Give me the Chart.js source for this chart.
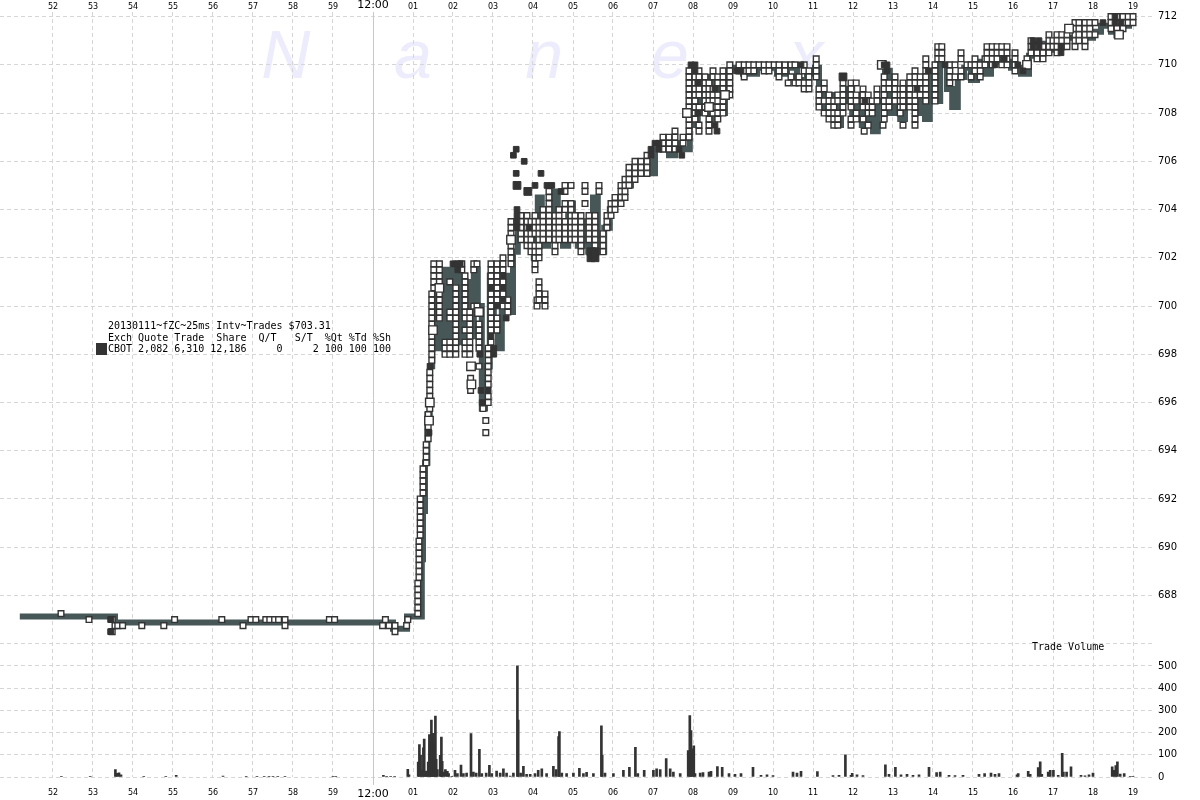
<!DOCTYPE html>
<html><head><meta charset="utf-8">
<script src="https://cdn.jsdelivr.net/npm/chart.js@4.4.1/dist/chart.umd.min.js"></script>
<style>
html,body{margin:0;padding:0;background:#fff;}
#wrap{position:relative;width:1200px;height:800px;overflow:hidden;background:#fff;}
#c{position:absolute;left:0;top:0;}
.legend{position:absolute;left:108px;top:320px;font:10px 'DejaVu Sans Mono',monospace;line-height:11.5px;white-space:pre;color:#000;}
.lsq{position:absolute;left:96px;top:343px;width:11px;height:12px;background:#333;}
.tv{position:absolute;left:1032px;top:641px;font:10px 'DejaVu Sans Mono',monospace;white-space:pre;color:#000;}
</style></head>
<body><div id="wrap">
<canvas id="c" width="1200" height="800"></canvas>
<div class="lsq"></div>
<div class="legend">20130111~fZC~25ms Intv~Trades $703.31
Exch Quote Trade  Share  Q/T   S/T  %Qt %Td %Sh
CBOT 2,082 6,310 12,186     0     2 100 100 100</div>
<div class="tv">Trade Volume</div>
</div>
<script>
// time axis: minutes relative to 12:00 (negative = 11:xx)
const minuteTicks = [-8,-7,-6,-5,-4,-3,-2,-1,0,1,2,3,4,5,6,7,8,9,10,11,12,13,14,15,16,17,18,19];
const priceTicks = [686,688,690,692,694,696,698,700,702,704,706,708,710,712];
const volumeTicks = [0,100,200,300,400,500];
const watermark = ['N','a','n','e','x'];

// quote band (bid/ask mid): price changes to bandPrice[i] at bandTime[i]
const bandTime = [-8.83,-6.45,0.50,0.85,1.22,1.25,1.30,1.36,1.42,1.48,1.55,1.62,1.75,1.88,2.02,2.15,2.25,2.38,2.52,2.62,2.72,2.80,2.92,3.02,3.12,3.22,3.35,3.42,3.50,3.62,3.75,3.88,4.02,4.12,4.22,4.38,4.52,4.62,4.75,4.88,5.00,5.12,5.25,5.38,5.50,5.62,5.78,5.92,6.05,6.25,6.45,6.62,6.80,6.92,7.05,7.20,7.40,7.55,7.70,7.92,8.02,8.12,8.22,8.32,8.45,8.55,8.68,8.80,8.95,9.25,9.60,10.10,10.35,10.60,10.85,11.05,11.15,11.30,11.45,11.58,11.70,11.85,11.98,12.10,12.22,12.35,12.50,12.62,12.80,12.92,13.05,13.18,13.30,13.42,13.55,13.68,13.80,13.92,14.05,14.18,14.35,14.48,14.62,14.78,14.95,15.10,15.30,15.45,15.70,15.95,16.20,16.40,16.60,16.85,17.05,17.30,17.55,17.80,18.00,18.20,18.45,18.70,18.90,19.05];
const bandPrice = [687.125,686.875,686.625,687.125,689.5,691.5,693.5,695.5,697.5,700.0,701.5,698.25,701.5,698.25,701.5,698.5,701.0,698.75,701.5,700.0,695.75,697.5,701.25,699.5,698.25,700.0,701.25,699.75,702.25,703.75,702.75,703.5,702.0,704.5,702.5,703.25,704.75,703.0,702.5,704.25,703.0,702.5,703.5,702.25,704.5,702.25,703.25,704.0,704.5,705.0,705.75,705.5,706.0,705.5,706.5,706.75,706.25,706.75,706.5,709.75,707.5,709.5,708.0,709.5,707.75,709.25,708.0,709.75,709.875,709.625,709.875,709.625,709.875,709.375,709.625,709.875,708.75,708.0,708.75,707.5,708.5,709.0,707.75,708.75,707.5,708.25,707.25,708.5,709.75,708.0,709.0,707.75,709.0,708.25,708.0,709.25,707.75,709.75,708.5,710.0,709.0,708.25,709.5,709.875,709.375,710.125,709.625,710.375,710.125,709.875,709.625,710.375,710.875,710.625,710.875,711.125,711.375,711.125,711.375,711.625,711.375,711.625,711.875,711.875];

// trades (open squares): [time, price, price, ...]
const tradeCols = [
[-7.80,687.25],[-7.10,687.0],[-6.52,687.0,686.5],[-6.45,686.75],[-6.38,686.75],[-6.26,686.75],[-5.78,686.75],[-5.23,686.75],[-4.96,687.0],[-3.78,687.0],[-3.25,686.75],[-3.05,687.0],[-2.93,687.0],[-2.68,687.0],[-2.58,687.0],[-2.46,687.0],[-2.36,687.0],[-2.20,687.0,686.75],[-1.09,687.0],[-0.96,687.0],[0.24,686.75],[0.31,687.0],[0.40,686.75],[0.55,686.75,686.5],[0.84,686.75],[0.87,687.0],
[1.12,687.25,687.5,687.75,688.0,688.25,688.5],[1.15,688.75,689.0,689.25,689.5,689.75,690.0,690.25],[1.18,690.5,690.75,691.0,691.25,691.5,691.75,692.0],[1.25,692.25,692.5,692.75,693.0,693.25],[1.33,693.5,693.75,694.0,694.25],[1.38,694.5,694.75,695.0,695.5],[1.42,695.75,696.25,696.5,696.75,697.0,697.25],
[1.47,697.75,698.0,698.25,698.5,698.75,699.25,699.5,699.75,700.0,700.25,700.5],[1.52,700.75,701.0,701.25,701.5,701.75],
[1.66,699.5,699.75,700.0,700.25,700.5,701.0,701.25,701.5,701.75],[1.80,698.0,698.25,698.5],[1.92,701.0,699.75,699.5,698.5,698.25,698.0],
[2.07,698.0,698.25,698.5,698.75,699.0,699.25,699.5,699.75,700.0,700.25,700.5,700.75],[2.22,701.75,701.5],[2.30,698.0,698.25,698.5,699.0,699.5,699.75,700.0,700.25,700.5,700.75,701.0,701.25],[2.42,698.0,698.25,698.5,698.75,699.0,699.25,699.5,699.75],[2.44,697.0,696.5],[2.52,701.75,701.5,700.0],[2.60,701.75,700.0],[2.65,699.25,699.0,698.75,698.5,698.25,697.5],[2.75,695.75],[2.82,695.25,694.75],
[2.88,696.0,696.25,696.75,697.0,697.25,697.5,697.75,698.0,698.25],[2.95,698.5,699.0,699.25,699.5,699.75,700.0,700.25,700.5,701.0,701.25,701.5,701.75],[3.10,699.0,699.25,699.5,700.25,700.5,700.75,701.0,701.25,701.5,701.75],[3.25,702.0,701.75,701.5,701.0,700.5,700.0],[3.37,700.25,700.0,699.75],[3.45,701.75,702.0,702.25,702.5,702.75,703.0,703.25,703.5],
[3.70,703.75,703.5,703.25,703.0,702.75],[3.85,703.75,703.5,703.25,703.0,702.75,702.5],[3.95,703.5,703.25,703.0,702.75,702.5,702.25],[4.05,703.75,703.5,703.25,703.0,702.5,702.25,702.0,701.75,701.5],[4.10,700.25,700.0],[4.15,703.5,703.25,703.0,702.75,702.5,702.25,702.0,701.0,700.75,700.5,700.25],[4.25,704.0,703.75,703.5,703.25,703.0,702.75],[4.30,700.5,700.25,700.0],
[4.40,704.75,704.5,704.25,704.0,703.75,703.5,703.25,703.0,702.75],[4.55,703.75,703.5,703.25,703.0,702.75,702.5,702.25],[4.65,704.0,703.75,703.5,703.25,703.0,702.75],[4.80,705.0,704.75,704.25,704.0,703.5,703.25,703.0,702.75],[4.95,705.0,704.25,704.0,703.75,703.5,703.25,703.0,702.75],[5.05,703.75,703.5,703.25,703.0,702.75],[5.20,703.75,703.5,703.25,703.0,702.75,702.5,702.25],[5.30,705.0,704.75,704.25],[5.40,703.75,703.5,703.25,703.0,702.75],[5.55,703.75,703.5,703.25,703.0,702.75,702.5],[5.65,705.0,704.75],[5.75,703.0,702.75,702.5,702.25],
[5.85,703.25,703.5,703.75],[5.95,703.75,704.0,704.25],[6.05,704.0,704.25,704.5],[6.20,704.25,704.5,704.75,705.0],[6.30,704.5,704.75,705.0,705.25],[6.40,705.0,705.25,705.5,705.75],[6.55,705.25,705.5,705.75,706.0],[6.70,705.5,705.75,706.0],[6.85,705.5,705.75,706.0,706.25],[7.25,706.5,706.75,707.0],[7.40,706.5,706.75,707.0],[7.55,706.5,706.75,707.0,707.25],[7.75,706.75,707.0],
[7.90,707.0,707.25,707.5,707.75,708.25,708.5,708.75,709.0,709.25,709.5,709.75],[8.05,709.5,709.25,709.0,708.75,708.5,708.25,708.0,707.75],[8.15,709.75,709.5,709.0,708.75,708.25,707.5,707.25],[8.30,709.5,709.25,709.0,708.75,708.5,708.25,708.0],[8.40,709.25,709.0,708.75,708.5,707.75,707.5,707.25],[8.50,709.75,709.5,709.0,708.75,708.5,708.25,708.0],[8.62,709.5,709.25,708.75,708.5,708.25,708.0,707.75],[8.75,709.75,709.5,709.25,709.0,708.75,708.5,708.25,708.0],[8.92,710.0,709.75,709.5,709.25,709.0,708.75],
[9.15,710.0,709.75],[9.28,710.0,709.75,709.5],[9.40,710.0,709.75],[9.52,710.0,709.75],[9.65,710.0],[9.78,710.0,709.75],[9.90,710.0,709.75],[10.03,710.0],[10.15,710.0,709.75,709.5],[10.30,710.0,709.75],[10.38,709.25],[10.45,710.0,709.5],[10.55,710.0,709.25],[10.65,709.5,709.25],[10.78,710.0,709.75,709.25,709.0],[10.90,709.75,709.5,709.25,709.0],[11.08,710.25,710.0,709.75,709.5],
[11.15,709.0,708.75,708.5,708.25],[11.28,709.25,709.0,708.5,708.0],[11.40,708.75,708.5,708.25,708.0,707.75],[11.52,708.5,708.25,708.0,707.75,707.5],[11.62,708.75,708.5,708.0,707.75,707.5],[11.75,709.25,709.0,708.75,708.5,708.25,708.0],[11.95,709.25,709.0,708.75,708.5,708.25,707.75,707.5],[12.08,709.25,708.75,708.5,708.0,707.75],[12.25,709.0,708.75,708.5,708.25,707.75],[12.28,707.25],[12.38,708.75,708.5,708.25,708.0,707.5],[12.48,708.5,708.25,708.0],[12.60,709.0,708.75,708.5],
[12.75,707.5],[12.78,709.5,709.25,709.0,708.75,708.5,708.25,708.0,707.75],[12.90,709.25,709.0,708.5,708.25],[13.05,709.5,709.25,709.0,708.75,708.5],[13.18,709.0,708.75,708.5,708.25,708.0],[13.25,709.25,709.0,708.75,708.5,708.25,707.5],[13.42,709.5,709.25,709.0,708.75,708.5,708.25],[13.55,709.75,709.5,709.25,708.75,708.5,708.25,708.0,707.75,707.5],[13.68,709.5,709.25,709.0,708.75],[13.82,710.25,710.0,709.75,709.5,709.25,709.0,708.75,708.5],[14.05,710.0,709.75,709.5,709.25,709.0,708.75,708.5],
[14.12,710.75,710.5,710.25],[14.22,710.75,710.5,710.25],[14.42,710.0,709.75,709.5,709.25],[14.55,710.0,709.5],[14.70,710.5,710.25,709.75,709.5],[14.85,710.0],[14.95,710.0,709.5],[15.05,710.25,710.0,709.75],[15.18,710.0,709.75,709.5],[15.30,710.25,710.0],[15.35,710.75,710.5,710.25],[15.48,710.75,710.5,710.25,710.0],[15.60,710.75,710.5,710.25],[15.72,710.75,710.5,710.0],[15.85,710.75,710.5,710.25,710.0],[16.05,710.5,710.25,710.0,709.75],[16.35,710.25],
[16.45,711.0,710.75,710.5],[16.60,710.75,710.5,710.25],[16.75,710.75,710.5,710.25],[16.90,711.25,711.0,710.75,710.5],[17.00,711.0,710.75],[17.10,711.25,711.0,710.75,710.5],[17.22,711.25,711.0,710.75],[17.35,711.25,711.0,710.75],[17.55,711.75,711.5,711.25,711.0,710.75],[17.65,711.75,711.5,711.25,711.0],[17.80,711.75,711.5,711.25,711.0,710.75],[17.92,711.75,711.5,711.25],[18.05,711.75,711.25],
[18.45,712.0,711.75,711.5],[18.60,712.0,711.75,711.5,711.25],[18.75,712.0,711.75,711.5],[18.88,712.0,711.75],[19.00,712.0,711.75]
];
// larger open squares (bigger prints)
const bigTradeTime = [1.40,1.42,1.50,1.66,2.45,2.46,2.65,3.45,7.85,8.40,8.80,12.72,16.35,17.40,18.65];
const bigTradePrice = [695.25,696.0,699.0,700.75,697.5,696.75,699.75,702.75,708.0,708.25,708.75,710.0,710.0,711.5,711.25];

// filled squares: [time, price, price, ...]
const darkCols = [
[-6.56,687.0,686.5],[1.40,694.75],[1.43,697.5],[2.00,701.75],[2.06,701.75],[2.12,701.75,701.5],[2.18,701.75],[2.67,698.0],[2.70,696.5],[2.73,696.0],[2.88,696.5],[2.95,698.75,700.75],[3.02,698.0,698.25],[3.10,700.0],[3.25,701.25,700.75,700.25],[3.33,699.5],
[3.51,706.25],[3.58,706.5,705.5],[3.78,706.0],[4.20,705.5],[4.05,705.0],[3.60,704.0,703.75,703.5,703.25],[3.90,703.25],[4.35,705.0],[4.47,705.0],[4.70,704.75],
[6.95,706.25,706.5],[7.05,706.75],[7.15,706.75,706.5],[7.65,706.5],[7.72,706.25],[7.95,710.0],[8.05,710.0,709.75],[8.12,709.25,708.0],[8.55,709.0,707.5],[8.60,707.25],
[9.10,709.75],[9.20,709.75],[10.70,710.0],[12.30,708.5],[12.78,710.0],[12.85,709.75,710.0],[13.60,709.0],[13.88,709.75],[14.30,710.0],[15.55,710.0],[15.78,710.25],[16.12,710.0],[16.25,709.75],[16.50,711.0,710.75],[16.65,711.0,710.75],[17.20,710.5,710.75],[18.25,711.75],[18.55,712.0,711.75],[18.70,711.75]
];
const bigDarkTime = [3.60,3.87,5.45,5.45,5.55,5.55,11.75];
const bigDarkPrice = [705.0,704.75,702.25,702.0,702.25,702.0,709.5];

// trade volume per interval
const volumeTime = [-7.79,-7.07,-6.44,-6.40,-6.35,-6.30,-5.73,-5.18,-4.92,-3.75,-3.17,-2.90,-2.72,-2.60,-2.50,-2.38,-2.20,-1.00,-0.93,0.26,0.34,0.44,0.54,0.87,0.90,1.13,1.16,1.19,1.22,1.26,1.28,1.32,1.34,1.38,1.41,1.43,1.46,1.48,1.51,1.53,1.56,1.58,1.61,1.68,1.71,1.73,1.76,1.81,1.86,1.89,1.97,2.05,2.11,2.20,2.26,2.34,2.45,2.51,2.58,2.66,2.72,2.83,2.91,2.97,3.09,3.18,3.26,3.34,3.43,3.51,3.61,3.63,3.69,3.76,3.84,3.93,4.05,4.13,4.22,4.34,4.51,4.58,4.64,4.66,4.72,4.84,5.01,5.16,5.26,5.34,5.51,5.71,5.73,5.80,6.01,6.26,6.41,6.56,6.62,6.78,7.01,7.09,7.18,7.33,7.43,7.51,7.68,7.88,7.92,7.95,7.98,8.02,8.05,8.18,8.25,8.40,8.45,8.61,8.73,8.90,9.05,9.20,9.50,9.70,9.85,10.00,10.50,10.60,10.70,11.11,11.50,11.65,11.81,11.95,11.98,12.10,12.25,12.81,12.90,13.06,13.20,13.35,13.50,13.65,13.90,14.09,14.18,14.40,14.55,14.75,15.15,15.29,15.45,15.55,15.65,16.10,16.13,16.38,16.43,16.63,16.68,16.72,16.88,16.93,17.01,17.13,17.23,17.26,17.34,17.45,17.70,17.80,17.90,18.00,18.48,18.53,18.57,18.61,18.68,18.78,18.93,19.00];
const volumeValue = [3,3,33,17,19,10,3,3,8,4,3,3,3,3,3,3,3,3,3,7,3,3,3,34,10,67,146,97,30,131,171,27,15,67,191,155,256,185,197,149,274,80,33,97,180,70,22,33,25,15,3,30,15,54,15,18,195,22,18,125,15,18,52,15,27,18,37,18,4,18,500,256,18,48,12,12,15,30,37,15,48,33,182,204,18,15,18,39,15,21,15,230,97,18,15,30,43,133,15,30,30,37,33,83,37,22,15,119,276,209,127,140,15,18,20,22,25,47,44,15,12,15,44,8,10,6,22,18,25,24,6,8,100,8,17,10,6,55,12,44,10,12,8,10,44,20,22,8,6,8,12,15,18,12,15,10,15,25,12,42,68,12,22,30,30,8,106,22,22,46,7,5,10,18,46,30,51,68,13,15,3,3];

const pts = cols => { const o = []; cols.forEach(c => { for (let i = 1; i < c.length; i++) o.push({x: c[0], y: c[i]}); }); return o; };
const pairs = (a, b) => a.map((v, i) => ({x: v, y: b[i]}));
const two = n => (n < 10 ? '0' : '') + n;
const tickLabel = v => v === 0 ? '12:00' : (v < 0 ? String(60 + v) : two(v));
const GRID = '#d6d6d6';
const FONT = "'DejaVu Sans', Verdana, sans-serif";

const bgPlugin = {
  id: 'bg',
  beforeDraw(chart) {
    const c = chart.ctx;
    c.save();
    c.fillStyle = 'rgb(236,236,252)';
    c.font = "italic 68px 'Liberation Sans', Arial, sans-serif";
    c.textAlign = 'center';
    c.textBaseline = 'alphabetic';
    const xs = chart.scales.x;
    const pos = [-2.18, 1.0, 4.28, 7.42, 10.83];
    watermark.forEach((ch, i) => c.fillText(ch, xs.getPixelForValue(pos[i]), 78));
    c.restore();
  },
  beforeDatasetsDraw(chart) {
    const c = chart.ctx, xs = chart.scales.x;
    const x = Math.round(xs.getPixelForValue(0)) + 0.5;
    c.save();
    c.strokeStyle = '#c8c8c8';
    c.lineWidth = 1;
    c.beginPath();
    c.moveTo(x, chart.chartArea.top);
    c.lineTo(x, chart.chartArea.bottom + 8);
    c.stroke();
    c.restore();
  }
};

const xTicks = s => { s.ticks = minuteTicks.map(v => ({value: v})); };
const xTickOpts = padding => ({
  autoSkip: false, maxRotation: 0, padding: padding, color: '#000',
  font: ctx => (ctx.tick && ctx.tick.value === 0) ? {family: FONT, size: 11} : {family: FONT, size: 8},
  callback: v => tickLabel(v)
});

new Chart(document.getElementById('c'), {
  type: 'scatter',
  data: {
    datasets: [
      {type: 'line', data: pairs(bandTime, bandPrice), stepped: 'before', borderColor: '#475656', borderWidth: 6, pointRadius: 0, yAxisID: 'y', order: 10},
      {data: pts(tradeCols), pointStyle: 'rect', pointRadius: 4, backgroundColor: '#fff', borderColor: '#333', borderWidth: 1.4, yAxisID: 'y', order: 6},
      {data: pairs(bigTradeTime, bigTradePrice), pointStyle: 'rect', pointRadius: 6, backgroundColor: '#fff', borderColor: '#333', borderWidth: 1.4, yAxisID: 'y', order: 5},
      {data: pts(darkCols), pointStyle: 'rect', pointRadius: 4, backgroundColor: '#333', borderColor: '#333', borderWidth: 1, yAxisID: 'y', order: 4},
      {data: pairs(bigDarkTime, bigDarkPrice), pointStyle: 'rect', pointRadius: 5.5, backgroundColor: '#333', borderColor: '#333', borderWidth: 1, yAxisID: 'y', order: 3},
      {type: 'bar', data: pairs(volumeTime, volumeValue), backgroundColor: '#333', barThickness: 2, yAxisID: 'yv', order: 20}
    ]
  },
  options: {
    responsive: false, animation: false, events: [],
    layout: {padding: 0, autoPadding: false},
    plugins: {legend: {display: false}, tooltip: {enabled: false}},
    scales: {
      x: {
        type: 'linear', position: 'bottom', min: -9.325, max: 19.475, offset: false,
        afterBuildTicks: xTicks, ticks: xTickOpts(11),
        grid: {offset: false, color: ctx => (ctx.tick && ctx.tick.value === 0) ? 'rgba(0,0,0,0)' : GRID, drawTicks: false},
        border: {display: false, dash: [4, 3]},
        afterFit: s => { s.height = 23; }
      },
      xt: {
        type: 'linear', position: 'top', min: -9.325, max: 19.475, offset: false,
        afterBuildTicks: xTicks, ticks: xTickOpts(0),
        grid: {display: false, drawTicks: false}, border: {display: false},
        afterFit: s => { s.height = 12; }
      },
      y: {
        position: 'right', stack: 'panels', stackWeight: 631.7, min: 686, max: 712.19,
        afterBuildTicks: s => { s.ticks = priceTicks.map(v => ({value: v})); },
        ticks: {autoSkip: false, padding: 6, color: '#000', font: {family: FONT, size: 10}, callback: v => v === 686 ? '' : String(v)},
        grid: {color: GRID, drawTicks: false}, border: {display: false, dash: [4, 3]},
        afterFit: s => { s.width = 48; }
      },
      yv: {
        position: 'right', stack: 'panels', stackWeight: 133.3, min: 0, max: 600,
        afterBuildTicks: s => { s.ticks = volumeTicks.map(v => ({value: v})); },
        ticks: {autoSkip: false, padding: 6, color: '#000', font: {family: FONT, size: 10}, callback: v => String(v)},
        grid: {color: GRID, drawTicks: false}, border: {display: false, dash: [4, 3]},
        afterFit: s => { s.width = 48; }
      }
    }
  },
  plugins: [bgPlugin]
});
</script>
</body></html>
